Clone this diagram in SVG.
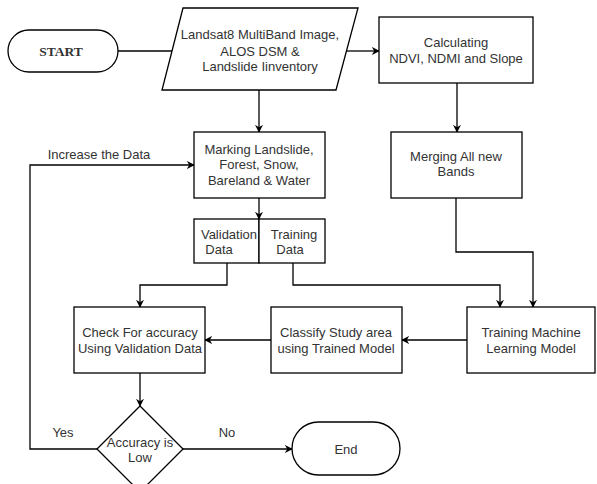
<svg xmlns="http://www.w3.org/2000/svg" width="597" height="484" viewBox="0 0 597 484">
<style>
.n{fill:#fff;stroke:#000;stroke-width:1.3}
.t{font-family:"Liberation Sans",Arial,sans-serif;font-size:13px;fill:#333;text-anchor:middle}
.c{fill:none;stroke:#000;stroke-width:1.3}
</style>
<defs>
<marker id="a" viewBox="0 0 10 10" refX="9" refY="5" markerWidth="8" markerHeight="8" markerUnits="userSpaceOnUse" orient="auto">
<path d="M0,0 L10,5 L0,10 L3,5 Z" fill="#000"/>
</marker>
</defs>
<rect width="597" height="484" fill="#fff"/>
<g id="connectors">
<path class="c" d="M118,51 H182" marker-end="url(#a)"/>
<path class="c" d="M347,51 H379" marker-end="url(#a)"/>
<path class="c" d="M259,90 V132" marker-end="url(#a)"/>
<path class="c" d="M457,83 V132" marker-end="url(#a)"/>
<path class="c" d="M259,198 V219" marker-end="url(#a)"/>
<path class="c" d="M227,263 V285 H140 V307" marker-end="url(#a)"/>
<path class="c" d="M293,263 V285 H500 V307" marker-end="url(#a)"/>
<path class="c" d="M456,198 V252 H533 V307" marker-end="url(#a)"/>
<path class="c" d="M467,340 H402" marker-end="url(#a)"/>
<path class="c" d="M271,340 H205" marker-end="url(#a)"/>
<path class="c" d="M140,373 V406" marker-end="url(#a)"/>
<path class="c" d="M97,449 H30 V165 H194" marker-end="url(#a)"/>
<path class="c" d="M183,449 H292" marker-end="url(#a)"/>
<text class="t" x="99" y="159">Increase the Data</text>
<text class="t" x="63" y="437">Yes</text>
<text class="t" x="227" y="437">No</text>
</g>
<g id="start">
<rect class="n" x="8" y="30" width="110" height="42" rx="21" ry="21"/>
<text x="61" y="56" style="font-family:'Liberation Serif','Times New Roman',serif;font-size:13.5px;font-weight:bold;fill:#333;text-anchor:middle">START</text>
</g>
<g id="input">
<polygon class="n" points="183,8 358,8 336,90 162,90"/>
<text class="t" x="260" y="39">Landsat8 MultiBand Image,</text>
<text class="t" x="260" y="56">ALOS DSM &amp;</text>
<text class="t" x="260" y="71">Landslide Iinventory</text>
</g>
<g id="calc">
<rect class="n" x="379" y="17" width="154" height="66"/>
<text class="t" x="456" y="47">Calculating</text>
<text class="t" x="456" y="63">NDVI, NDMI and Slope</text>
</g>
<g id="marking">
<rect class="n" x="194" y="132" width="131" height="66"/>
<text class="t" x="259" y="154">Marking Landslide,</text>
<text class="t" x="259" y="169">Forest, Snow,</text>
<text class="t" x="259" y="185">Bareland &amp; Water</text>
</g>
<g id="merging">
<rect class="n" x="391" y="132" width="131" height="66"/>
<text class="t" x="456" y="161">Merging All new</text>
<text class="t" x="456" y="176">Bands</text>
</g>
<g id="validation">
<rect class="n" x="194" y="219" width="65" height="44"/>
<text class="t" x="229" y="239">Validation</text>
<text class="t" x="219" y="254">Data</text>
</g>
<g id="training">
<rect class="n" x="259" y="219" width="66" height="44"/>
<text class="t" x="294" y="239">Training</text>
<text class="t" x="290" y="254">Data</text>
</g>
<g id="trainml">
<rect class="n" x="467" y="307" width="128" height="66"/>
<text class="t" x="531" y="337">Training Machine</text>
<text class="t" x="531" y="353">Learning Model</text>
</g>
<g id="classify">
<rect class="n" x="271" y="307" width="131" height="66"/>
<text class="t" x="336" y="337">Classify Study area</text>
<text class="t" x="336" y="353">using Trained Model</text>
</g>
<g id="check">
<rect class="n" x="74" y="307" width="131" height="66"/>
<text class="t" x="140" y="337">Check For accuracy</text>
<text class="t" x="140" y="353">Using Validation Data</text>
</g>
<g id="decision">
<polygon class="n" points="140,406 183,449 140,492 97,449"/>
<text class="t" x="140" y="447">Accuracy is</text>
<text class="t" x="140" y="462">Low</text>
</g>
<g id="end">
<rect class="n" x="292" y="422" width="108" height="53" rx="26.5" ry="26.5"/>
<text class="t" x="346" y="454">End</text>
</g>
</svg>
